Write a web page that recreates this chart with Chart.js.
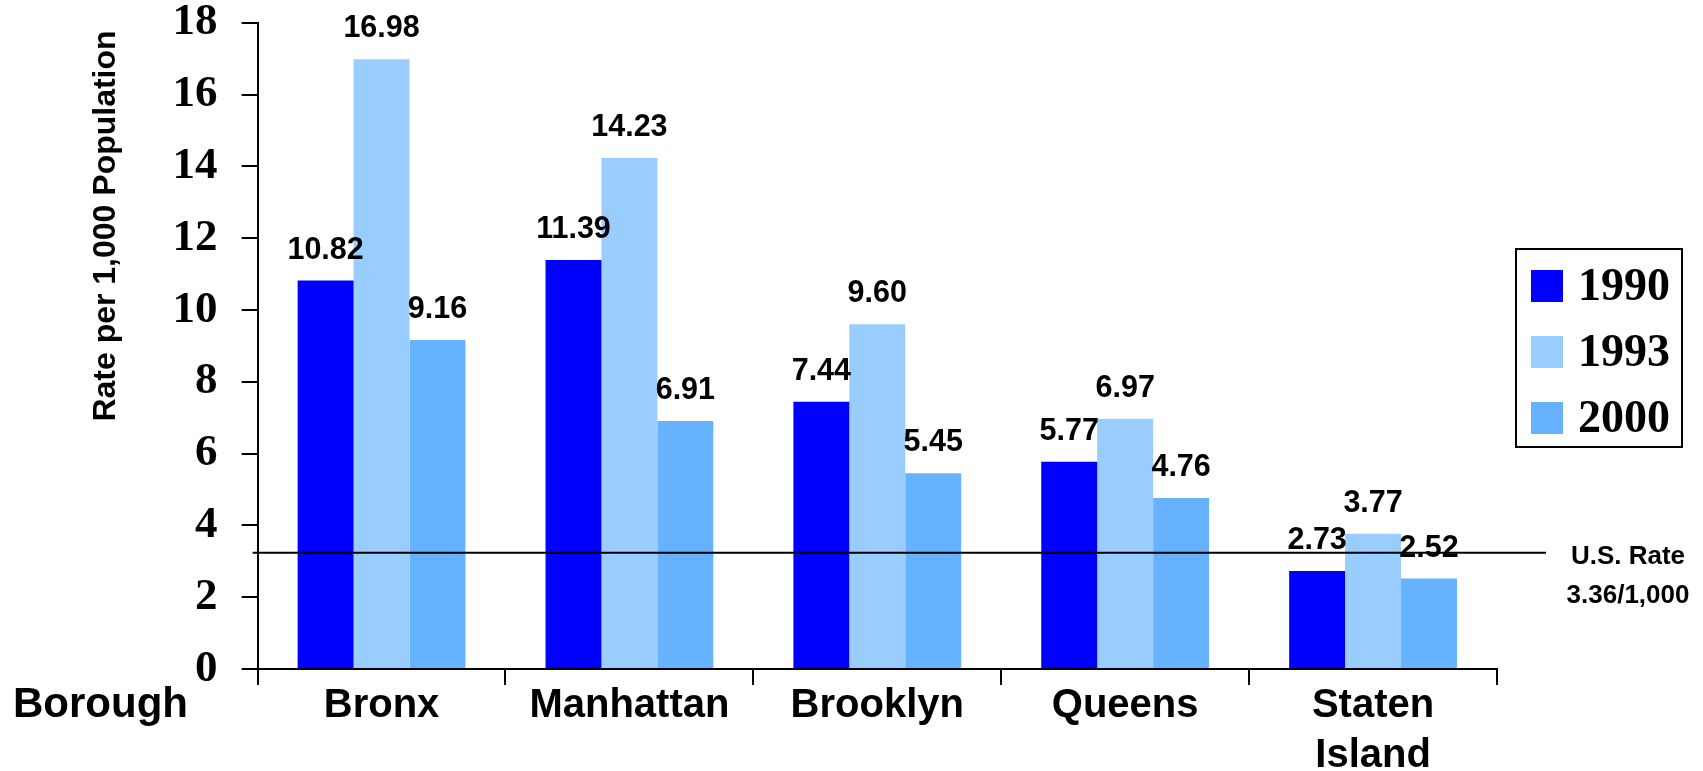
<!DOCTYPE html>
<html>
<head>
<meta charset="utf-8">
<script src="https://cdn.jsdelivr.net/npm/chart.js@4.4.0/dist/chart.umd.min.js"></script>
<style>
html,body{margin:0;padding:0;background:#ffffff;}
#wrap{width:1703px;height:771px;position:relative;}
</style>
</head>
<body>
<div id="wrap"><canvas id="c" width="1703" height="771"></canvas></div>
<script>
// ---- data ----
const categories = ['Bronx', 'Manhattan', 'Brooklyn', 'Queens', ['Staten', 'Island']];
const seriesNames = ['1990', '1993', '2000'];
const values1990 = [10.82, 11.39, 7.44, 5.77, 2.73];
const values1993 = [16.98, 14.23, 9.60, 6.97, 3.77];
const values2000 = [9.16, 6.91, 5.45, 4.76, 2.52];
const yTicks = [0, 2, 4, 6, 8, 10, 12, 14, 16, 18];
const usRateValue = 3.24;               // where the reference line is drawn
const usRateLabel = ['U.S. Rate', '3.36/1,000'];
const yTitle = 'Rate per 1,000 Population';
const xTitle = 'Borough';
const seriesColors = ['#0000FF', '#99CCFF', '#66B2FF'];

const SANS = '"Liberation Sans", Arial, sans-serif';
const SERIF = '"Liberation Serif", "Times New Roman", serif';

const overlay = {
  id: 'overlay',
  afterDatasetsDraw(chart) {
    const ctx = chart.ctx;
    const ys = chart.scales.y;
    const ca = chart.chartArea;
    ctx.save();
    // U.S. rate reference line
    const ly = ys.getPixelForValue(usRateValue);
    ctx.strokeStyle = '#000';
    ctx.lineWidth = 2;
    ctx.beginPath();
    ctx.moveTo(ca.left - 5, ly);
    ctx.lineTo(ca.right + 49, ly);
    ctx.stroke();
    // value labels
    ctx.fillStyle = '#000';
    ctx.font = 'bold 30.5px ' + SANS;
    ctx.textAlign = 'center';
    ctx.textBaseline = 'alphabetic';
    chart.data.datasets.forEach((ds, i) => {
      const meta = chart.getDatasetMeta(i);
      meta.data.forEach((bar, j) => {
        ctx.fillText(ds.data[j].toFixed(2), bar.x, bar.y - 22);
      });
    });
    // U.S. rate text
    ctx.font = 'bold 26px ' + SANS;
    ctx.fillText(usRateLabel[0], 1628, ly + 11.5);
    ctx.fillText(usRateLabel[1], 1628, ly + 50.5);
    ctx.restore();
  },
  afterDraw(chart) {
    const ctx = chart.ctx;
    ctx.save();
    ctx.fillStyle = '#000';
    // y axis title
    ctx.font = 'bold 32px ' + SANS;
    ctx.textAlign = 'center';
    ctx.textBaseline = 'alphabetic';
    ctx.translate(115, 226);
    ctx.rotate(-Math.PI / 2);
    ctx.fillText(yTitle, 0, 0);
    ctx.setTransform(1, 0, 0, 1, 0, 0);
    // x title
    ctx.font = 'bold 42px ' + SANS;
    ctx.textAlign = 'left';
    ctx.fillText(xTitle, 13, 717);
    // legend
    ctx.strokeStyle = '#000';
    ctx.lineWidth = 2;
    ctx.strokeRect(1516, 249, 166, 198);
    ctx.font = 'bold 46px ' + SERIF;
    ctx.textBaseline = 'middle';
    chart.data.datasets.forEach((ds, i) => {
      const top = 270 + i * 66;
      ctx.fillStyle = ds.backgroundColor;
      ctx.fillRect(1531, top, 32, 32);
      ctx.fillStyle = '#000';
      ctx.fillText(ds.label, 1578, top + 18);
    });
    ctx.restore();
  }
};

new Chart(document.getElementById('c'), {
  type: 'bar',
  data: {
    labels: categories,
    datasets: [
      { label: seriesNames[0], data: values1990, backgroundColor: seriesColors[0] },
      { label: seriesNames[1], data: values1993, backgroundColor: seriesColors[1] },
      { label: seriesNames[2], data: values2000, backgroundColor: seriesColors[2] }
    ]
  },
  options: {
    responsive: false,
    animation: false,
    devicePixelRatio: 1,
    layout: { padding: { left: 0, right: 206, top: 22.7, bottom: 0 } },
    datasets: { bar: { categoryPercentage: 0.677, barPercentage: 1.0, borderWidth: 0 } },
    plugins: { legend: { display: false }, tooltip: { enabled: false } },
    scales: {
      x: {
        grid: { offset: true, drawOnChartArea: false, drawTicks: true, tickLength: 16, color: '#000', lineWidth: 2 },
        border: { color: '#000', width: 2 },
        ticks: { color: '#000', font: { family: SANS, size: 40, weight: 'bold', lineHeight: 1.25 }, padding: -4, maxRotation: 0, autoSkip: false },
        afterFit(s) { s.height = 102; s.paddingLeft = 0; s.paddingRight = 0; }
      },
      y: {
        min: 0, max: 18,
        afterBuildTicks(s) { s.ticks = yTicks.map(v => ({ value: v })); },
        grid: { drawOnChartArea: false, drawTicks: true, tickLength: 16, color: '#000', lineWidth: 2 },
        border: { color: '#000', width: 2 },
        ticks: { color: '#000', font: { family: SERIF, size: 45, weight: 'bold', lineHeight: 1 }, padding: 24 },
        afterFit(s) { s.width = 257.6; s.paddingTop = 0; s.paddingBottom = 0; }
      }
    }
  },
  plugins: [overlay]
});
</script>
</body>
</html>
